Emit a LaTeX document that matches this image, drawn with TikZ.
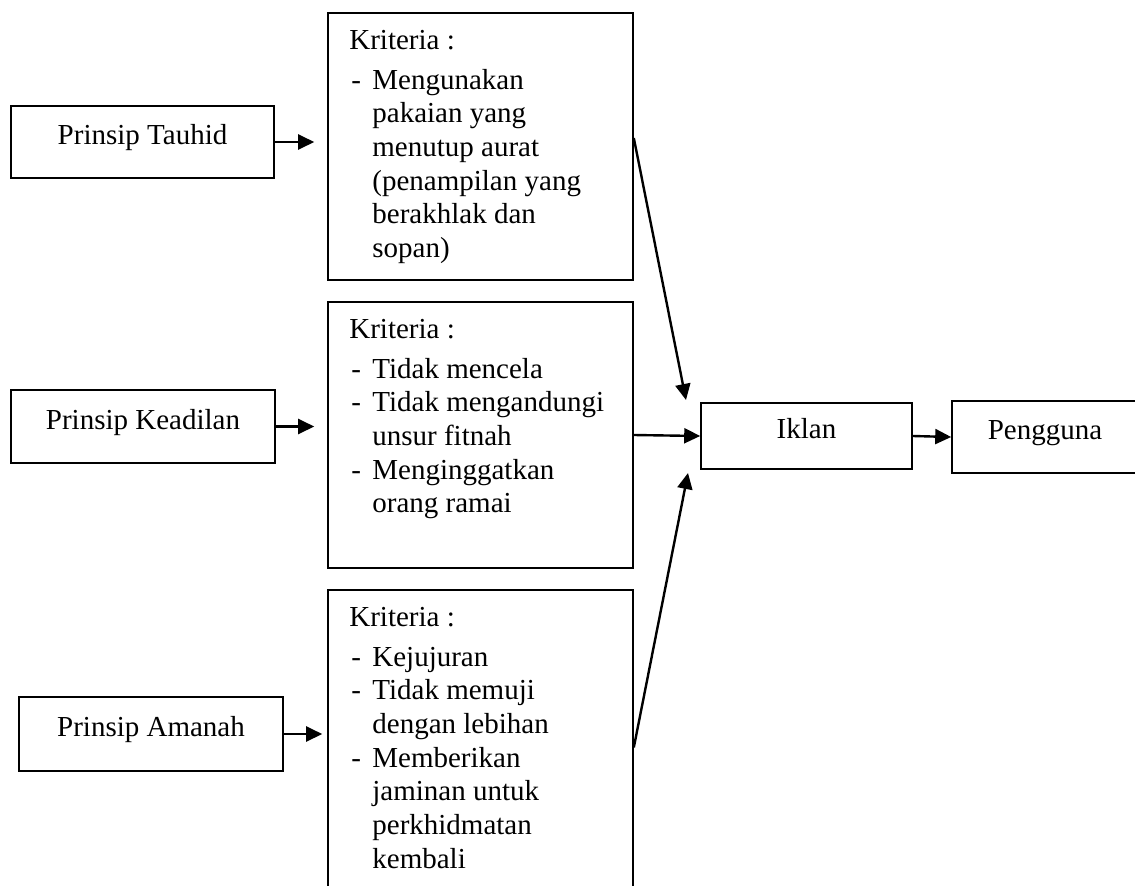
\documentclass[tikz,border=0pt]{standalone}
\usepackage{fontspec}
\setmainfont{Liberation Serif}
\usetikzlibrary{arrows.meta,positioning,calc}

\begin{document}
\begin{tikzpicture}[x=1pt,y=-1pt,
  every node/.style={font=\fontsize{29}{33.7}\selectfont},
  box/.style={draw,line width=1.6pt,inner sep=0pt,text height=20pt,text depth=15pt},
  kbox/.style={draw,line width=1.6pt,inner sep=0pt,minimum width=305pt},
  klist/.style={inner sep=0pt,anchor=north west},
  arr/.style={line width=2.4pt,-{Triangle[length=16pt,width=15pt]}}]
\useasboundingbox (0,0) rectangle (1135,886);
\clip (0,0) rectangle (1135,886);

\node[box,minimum width=263pt,minimum height=72pt] (tauhid) at (142.5,142) {Prinsip Tauhid};
\node[box,minimum width=264pt,minimum height=73pt] (keadilan) at (143,426.5) {Prinsip Keadilan};
\node[box,minimum width=264pt,minimum height=74pt] (amanah) at (151,734) {Prinsip Amanah};

\node[kbox,minimum height=267pt] (krit1) at (480.5,146.5) {};
\node[kbox,minimum height=266pt] (krit2) at (480.5,435) {};
\node[kbox,minimum height=315pt] (krit3) at (480.5,747.5) {};

\node[klist] (krit1text) at ([xshift=22pt,yshift=-14pt]krit1.north west) {%
\begin{tabular}{@{}p{23pt}@{}l@{}}
\multicolumn{2}{@{}l@{}}{Kriteria :}\\[5.5pt]
\hspace{2pt}- & Mengunakan\\
 & pakaian yang\\
 & menutup aurat\\
 & (penampilan yang\\
 & berakhlak dan\\
 & sopan)
\end{tabular}};
\node[klist] (krit2text) at ([xshift=22pt,yshift=-14pt]krit2.north west) {%
\begin{tabular}{@{}p{23pt}@{}l@{}}
\multicolumn{2}{@{}l@{}}{Kriteria :}\\[5.5pt]
\hspace{2pt}- & Tidak mencela\\
\hspace{2pt}- & Tidak mengandungi\\
 & unsur fitnah\\
\hspace{2pt}- & Menginggatkan\\
 & orang ramai
\end{tabular}};
\node[klist] (krit3text) at ([xshift=22pt,yshift=-14pt]krit3.north west) {%
\begin{tabular}{@{}p{23pt}@{}l@{}}
\multicolumn{2}{@{}l@{}}{Kriteria :}\\[5.5pt]
\hspace{2pt}- & Kejujuran\\
\hspace{2pt}- & Tidak memuji\\
 & dengan lebihan\\
\hspace{2pt}- & Memberikan\\
 & jaminan untuk\\
 & perkhidmatan\\
 & kembali
\end{tabular}};

\node[box,minimum width=211pt,minimum height=66pt] (iklan) at (806.5,436) {Iklan};
\node[box,minimum width=186pt,minimum height=72pt] (pengguna) at (1045,437) {Pengguna};

\coordinate (iklanatas) at (686,400);
\coordinate (iklanbawah) at (688,473);

\draw[arr,shorten >=13pt] (tauhid.east) -- (tauhid.east -| krit1.west);
\draw[arr,shorten >=13pt] (keadilan.east) -- (keadilan.east -| krit2.west);
\draw[arr,shorten >=5pt] (amanah.east) -- (amanah.east -| krit3.west);
\draw[arr] ([yshift=8.5pt]krit1.east) -- (iklanatas);
\draw[arr] (krit2.east) -- (iklan.west);
\draw[arr] (krit3.east) -- (iklanbawah);
\draw[arr] (iklan.east) -- (pengguna.west);
\end{tikzpicture}
\end{document}
